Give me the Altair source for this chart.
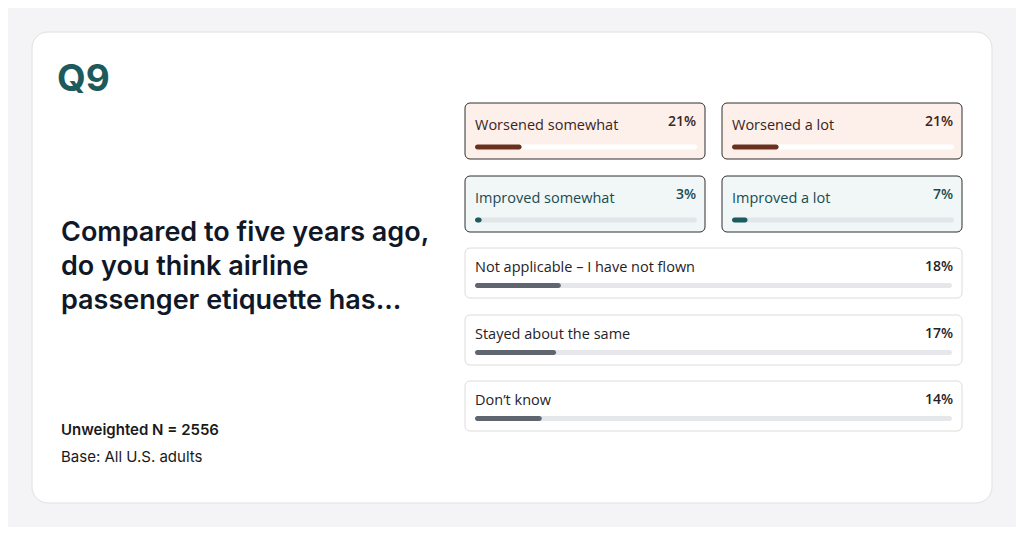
import altair as alt
import pandas as pd

# ---------------- data ----------------
categories = [
    "Worsened somewhat",
    "Worsened a lot",
    "Improved somewhat",
    "Improved a lot",
    "Not applicable – I have not flown",
    "Stayed about the same",
    "Don’t know",
]
values = [21, 21, 3, 7, 18, 17, 14]
groups = ["left", "right", "left", "right", "wide", "wide", "wide"]
tones = ["worse", "worse", "better", "better", "neutral", "neutral", "neutral"]

question_id = "Q9"
question_lines = ["Compared to five years ago,", "do you think airline", "passenger etiquette has..."]
sample_note = "Unweighted N = 2556"
base_note = "Base: All U.S. adults"

# ---------------- layout & style (not data) ----------------
W, H, M = 1008, 519, 8
col_x = {"left": (465, 705), "right": (722, 962), "wide": (465, 962)}
row_y = [(103, 159), (103, 159), (176, 232), (176, 232), (248, 298), (315, 365), (381, 431)]
track_x = {"left": (475, 697), "right": (732, 954), "wide": (475, 952)}
style = {
    "worse":   dict(fill="#fdf0eb", stroke="#2e2e2e", text="#3a2520", bar="#6b2f1e", track="#ffffff"),
    "better":  dict(fill="#f1f6f7", stroke="#2e2e2e", text="#184c50", bar="#1b5d5f", track="#e1e6e9"),
    "neutral": dict(fill="#ffffff", stroke="#dcdcdc", text="#1f2328", bar="#5f6670", track="#e6e7ea"),
}
LABEL_FONT = "Open Sans"
TITLE_FONT = "Inter"

rows = []
for i, (c, v, g, t) in enumerate(zip(categories, values, groups, tones)):
    x0, x1 = col_x[g]
    y0, y1 = row_y[i]
    s = style[t]
    small = g != "wide"
    rows.append(dict(
        cat=c, value=v, group=g, pct=f"{v}%",
        x0=x0, x1=x1, y0=y0, y1=y1,
        lx=x0 + 10, px=x1 - 9,
        ly=y0 + (22.5 if small else 19.5), py=y0 + (19 if small else 19),
        ty0=y0 + (44 if small else 37.5) - 2.5, ty1=y0 + (44 if small else 37.5) + 2.5,
        fill=s["fill"], stroke=s["stroke"], text=s["text"], bar=s["bar"], track=s["track"],
    ))
df = pd.DataFrame(rows)

px_x = alt.Scale(domain=[M, M + W], range=[0, W])
px_y = alt.Scale(domain=[M, M + H], range=[0, H])


def X(f):
    return alt.X(f, type="quantitative", scale=px_x, axis=None)


def Y(f):
    return alt.Y(f, type="quantitative", scale=px_y, axis=None)


base = alt.Chart(df)

# outer white card
outer = alt.Chart(pd.DataFrame({"x0": [32], "x1": [992], "y0": [32], "y1": [503]})).mark_rect(
    fill="#ffffff", stroke="#e0e0e2", strokeWidth=1, cornerRadius=16
).encode(x=X("x0"), x2="x1", y=Y("y0"), y2="y1")

cards = base.mark_rect(cornerRadius=5, strokeWidth=1).encode(
    x=X("x0"), x2="x1", y=Y("y0"), y2="y1",
    fill=alt.Fill("fill:N", scale=None),
    stroke=alt.Stroke("stroke:N", scale=None),
)

labels = base.mark_text(align="left", baseline="middle", font=LABEL_FONT, fontSize=14.5).encode(
    x=X("lx"), y=Y("ly"), text="cat:N", color=alt.Color("text:N", scale=None)
)
pcts = base.mark_text(align="right", baseline="middle", font=LABEL_FONT, fontSize=14, fontWeight=600).encode(
    x=X("px"), y=Y("py"), text="pct:N", color=alt.Color("text:N", scale=None)
)

bar_layers = []
for g, (tx0, tx1) in track_x.items():
    sc = alt.Scale(domain=[0, 100], range=[tx0 - M, tx1 - M])
    gd = base.transform_filter(alt.datum.group == g)
    track = gd.mark_bar(cornerRadius=2.5).encode(
        x=alt.X("full:Q", scale=sc, axis=None), x2=alt.datum(0),
        y=Y("ty0"), y2="ty1",
        color=alt.Color("track:N", scale=None),
    ).transform_calculate(full="100")
    bar = gd.mark_bar(cornerRadius=2.5).encode(
        x=alt.X("value:Q", scale=sc, axis=None), x2=alt.datum(0),
        y=Y("ty0"), y2="ty1",
        color=alt.Color("bar:N", scale=None),
    )
    bar_layers += [track, bar]

qid = alt.Chart(pd.DataFrame({"t": [question_id], "x": [57], "y": [80]})).mark_text(
    align="left", baseline="middle", font=TITLE_FONT, fontSize=37, fontWeight=700, color="#1c5a5b"
).encode(x=X("x"), y=Y("y"), text="t:N")

title = alt.Chart(pd.DataFrame({"t": question_lines, "x": [61] * 3, "y": [233, 267, 301]})).mark_text(
    align="left", baseline="middle", font=TITLE_FONT, fontSize=27, fontWeight=600, color="#101828"
).encode(x=X("x"), y=Y("y"), text="t:N")

note1 = alt.Chart(pd.DataFrame({"t": [sample_note], "x": [61], "y": [430]})).mark_text(
    align="left", baseline="middle", font=TITLE_FONT, fontSize=15, fontWeight=600, color="#1a1a1a"
).encode(x=X("x"), y=Y("y"), text="t:N")
note2 = alt.Chart(pd.DataFrame({"t": [base_note], "x": [61], "y": [457]})).mark_text(
    align="left", baseline="middle", font=TITLE_FONT, fontSize=15, fontWeight=400, color="#1a1a1a"
).encode(x=X("x"), y=Y("y"), text="t:N")

chart = alt.layer(outer, cards, *bar_layers, labels, pcts, qid, title, note1, note2).resolve_scale(
    x="independent"
).properties(
    width=W, height=H, background="#f4f4f6", padding=0,
    autosize=alt.AutoSizeParams(type="none"),
).configure_view(stroke=None)

chart.save("out.html", embed_options={"renderer": "svg", "actions": False})
